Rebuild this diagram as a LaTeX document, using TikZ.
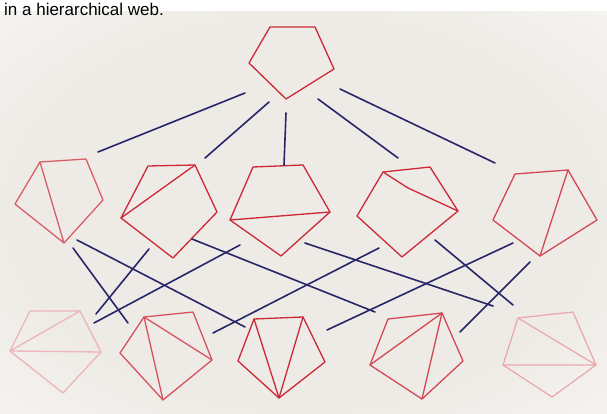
\documentclass[tikz,border=0pt]{standalone}
\usepackage{fontspec}
\newfontfamily\captionfont{Liberation Sans}
\definecolor{paper}{RGB}{238,235,230}
\definecolor{ink}{RGB}{205,40,55}
\definecolor{navy}{RGB}{38,38,105}
\pgfdeclareradialshading{paperfade}{\pgfpoint{0bp}{0bp}}{color(0bp)=(paper); color(24bp)=(paper); color(38bp)=(paper!50!white); color(47bp)=(white); color(80bp)=(white)}
% corners a..e of one hand-drawn pentagon, clockwise from top left
\newcommand{\penta}[7]{%
  \coordinate (#1a) at #3;
  \coordinate (#1b) at #4;
  \coordinate (#1c) at #5;
  \coordinate (#1d) at #6;
  \coordinate (#1e) at #7;
  \draw[pen,#2] (#1a)--(#1b)--(#1c)--(#1d)--(#1e)--cycle;
}
\begin{document}
\begin{tikzpicture}[x=1pt,y=-1pt,
    pen/.style={draw=ink,line width=1.3pt,line join=round,line cap=round},
    link/.style={draw=navy,line width=1.6pt,line cap=round}]
  \clip (0,0) rectangle (607,414);
  \fill[white] (0,0) rectangle (607,414);
  \shade[shading=paperfade] (0,12) rectangle (607,414);
  \node[anchor=base west,inner sep=0,font=\captionfont\fontsize{17}{20}\selectfont] (title) at (4,16) {in a hierarchical web.};
  % top
  \penta{P}{ink}{(270,27)}{(315,27)}{(334,69)}{(286,99)}{(249,63)}
  % middle row
  \penta{Ma}{ink!75}{(40,162)}{(86,159)}{(103,200)}{(64,243)}{(15,204)}
  \penta{Mb}{ink}{(148,166)}{(195,165)}{(217,212)}{(173,258)}{(121,218)}
  \penta{Mc}{ink}{(253,167)}{(303,165)}{(330,212)}{(281,256)}{(230,220)}
  \penta{Md}{ink}{(383,172)}{(430,167)}{(458,211)}{(402,257)}{(357,216)}
  \penta{Me}{ink!85}{(515,174)}{(568,170)}{(597,220)}{(540,256)}{(493,220)}
  \draw[pen,ink!75] (Maa)--(Mad);
  \draw[pen] (Mbe)--(Mbb);
  \draw[pen] (Mce)--(Mcc);
  \coordinate (Mdk) at (408,188);
  \draw[pen] (Mda)--(Mdk)--(Mdc);
  \draw[pen,ink!85] (Meb)--(Med);
  % bottom row
  \penta{Ba}{ink!35}{(30,311)}{(80,311)}{(101,352)}{(63,393)}{(10,351)}
  \penta{Bb}{ink!80}{(144,317)}{(193,312)}{(212,360)}{(163,400)}{(120,353)}
  \penta{Bc}{ink}{(254,319)}{(303,317)}{(325,362)}{(279,398)}{(238,361)}
  \penta{Bd}{ink!85}{(388,319)}{(442,313)}{(463,361)}{(422,399)}{(370,365)}
  \penta{Be}{ink!40}{(518,318)}{(573,312)}{(596,365)}{(552,397)}{(503,365)}
  \draw[pen,ink!35] (Bae)--(Bab) (Bae)--(Bac);
  \draw[pen,ink!80] (Bba)--(Bbd) (Bba)--(Bbc);
  \draw[pen] (Bca)--(Bcd) (Bcb)--(Bcd);
  \draw[pen,ink!85] (Bde)--(Bdb) (Bdb)--(Bdd);
  \draw[pen,ink!40] (Bea)--(Bec) (Bee)--(Bec);
  % blue strokes between the rows
  \foreach \n/\xa/\ya/\xb/\yb in {T1/245/93/98/152, T2/269/102/205/158,
      T3/286/113/284/165, T4/318/99/398/158, T5/340/89/495/163,
      L1/77/240/245/327, L2/73/248/128/323, L3/149/249/96/314,
      L4/240/245/94/323, L5/192/239/375/312, L6/379/248/213/333,
      L7/305/243/493/306, L8/513/243/327/330, L9/435/240/513/305,
      L10/530/262/460/332}{
    \coordinate (\n s) at (\xa,\ya);
    \coordinate (\n e) at (\xb,\yb);
    \draw[link] (\n s)--(\n e);
  }
\end{tikzpicture}
\end{document}
